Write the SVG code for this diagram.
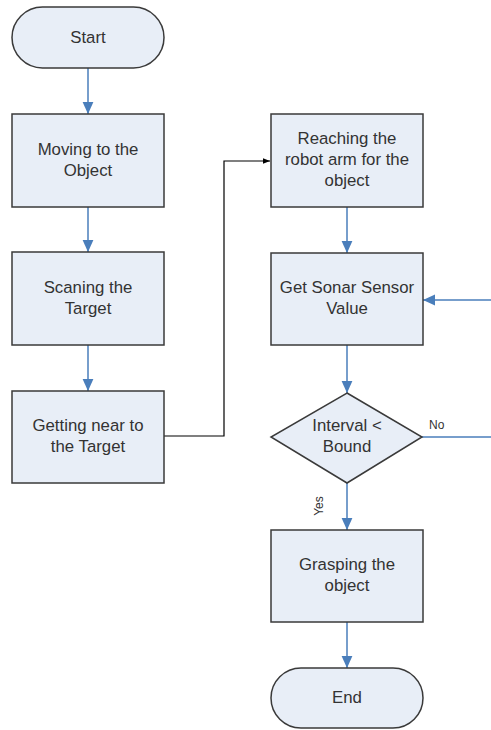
<svg xmlns="http://www.w3.org/2000/svg" width="491" height="730" viewBox="0 0 491 730">
<style>
.n{fill:#e8eef7;stroke:#3a3a3a;stroke-width:1.5}
.t{font-family:"Liberation Sans",Arial,sans-serif;font-size:16.8px;fill:#333;text-anchor:middle}
.s{font-family:"Liberation Sans",Arial,sans-serif;font-size:12px;fill:#333}
.c{fill:none;stroke:#4a7ebb;stroke-width:1.5}
.k{fill:none;stroke:#000;stroke-width:1.2}
</style>
<defs>
<marker id="b" viewBox="0 0 10 10" refX="10" refY="5" markerWidth="7" markerHeight="7" orient="auto" markerUnits="userSpaceOnUse">
<path d="M0,1L10,5L0,9z" fill="#000"/>
</marker>
<marker id="a2" viewBox="0 0 10 10" refX="10" refY="5" markerWidth="12" markerHeight="12" orient="auto" markerUnits="userSpaceOnUse">
<path d="M0,0.5L10,5L0,9.5z" fill="#4a7ebb"/>
</marker>
</defs>
<g id="connectors">
<line class="c" x1="88" y1="68" x2="88" y2="114" marker-end="url(#a2)"/>
<line class="c" x1="88" y1="207" x2="88" y2="252" marker-end="url(#a2)"/>
<line class="c" x1="88" y1="345" x2="88" y2="391" marker-end="url(#a2)"/>
<polyline class="k" points="164,436 224,436 224,161 270,161" marker-end="url(#b)"/>
<line class="c" x1="347" y1="207" x2="347" y2="253" marker-end="url(#a2)"/>
<line class="c" x1="347" y1="345" x2="347" y2="393" marker-end="url(#a2)"/>
<line class="c" x1="347" y1="483" x2="347" y2="530" marker-end="url(#a2)"/>
<line class="c" x1="347" y1="622" x2="347" y2="668" marker-end="url(#a2)"/>
<line class="c" x1="422" y1="437" x2="491" y2="437"/>
<line class="c" x1="491" y1="300" x2="423" y2="300" marker-end="url(#a2)"/>
<text class="s" x="429" y="429">No</text>
<text class="s" transform="translate(323,506) rotate(-90)" text-anchor="middle">Yes</text>
</g>
<g id="start">
<rect class="n" x="12" y="7" width="152" height="61" rx="30.5"/>
<text class="t" x="88" y="43">Start</text>
</g>
<g id="moving">
<rect class="n" x="12" y="114" width="152" height="93"/>
<text class="t" x="88" y="155">Moving to the</text>
<text class="t" x="88" y="176">Object</text>
</g>
<g id="scaning">
<rect class="n" x="12" y="252" width="152" height="93"/>
<text class="t" x="88" y="293">Scaning the</text>
<text class="t" x="88" y="314">Target</text>
</g>
<g id="getting">
<rect class="n" x="12" y="391" width="152" height="92"/>
<text class="t" x="88" y="431">Getting near to</text>
<text class="t" x="88" y="452">the Target</text>
</g>
<g id="reaching">
<rect class="n" x="271" y="114" width="152" height="93"/>
<text class="t" x="347" y="144">Reaching the</text>
<text class="t" x="347" y="165">robot arm for the</text>
<text class="t" x="347" y="186">object</text>
</g>
<g id="sonar">
<rect class="n" x="271" y="253" width="152" height="92"/>
<text class="t" x="347" y="293">Get Sonar Sensor</text>
<text class="t" x="347" y="314">Value</text>
</g>
<g id="decision">
<polygon class="n" points="347,393 422,437 347,483 271,437"/>
<text class="t" x="347" y="431">Interval &lt;</text>
<text class="t" x="347" y="452">Bound</text>
</g>
<g id="grasping">
<rect class="n" x="271" y="530" width="152" height="92"/>
<text class="t" x="347" y="570">Grasping the</text>
<text class="t" x="347" y="591">object</text>
</g>
<g id="end">
<rect class="n" x="271" y="668" width="152" height="60" rx="30"/>
<text class="t" x="347" y="703">End</text>
</g>
</svg>
